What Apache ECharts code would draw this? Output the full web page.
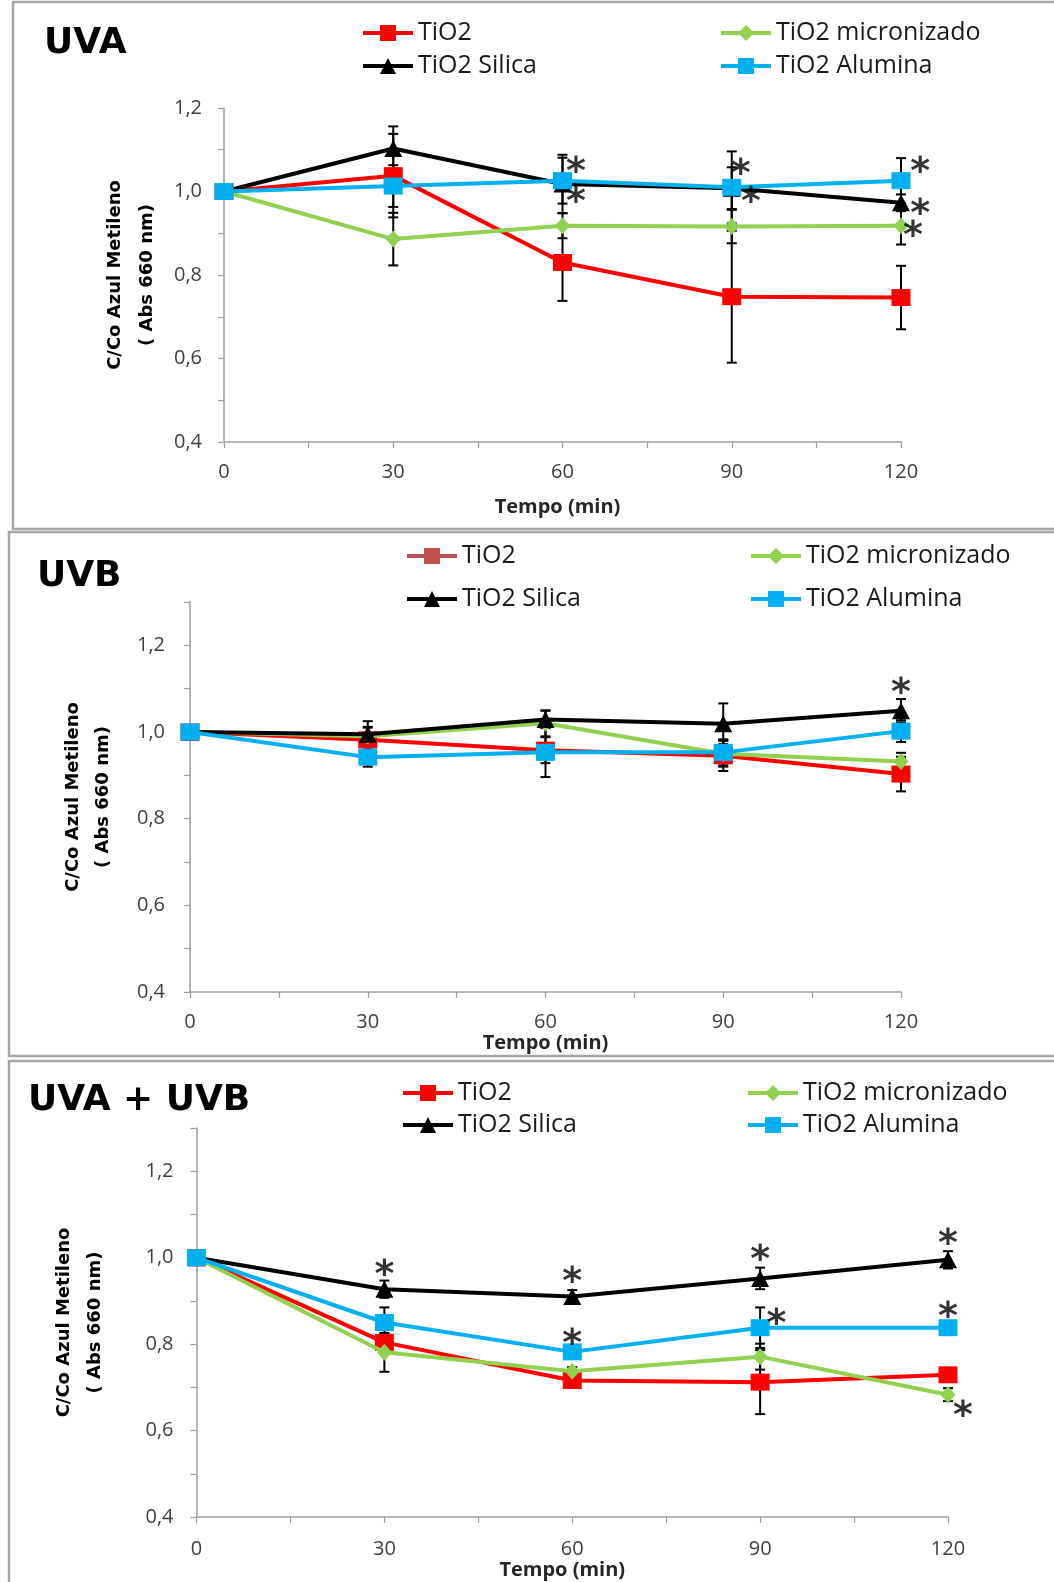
<!DOCTYPE html>
<html>
<head>
<meta charset="utf-8">
<script src="https://cdn.jsdelivr.net/npm/echarts@6/dist/echarts.min.js"></script>
<style>
html,body{margin:0;padding:0;background:#fff;}
#chart{width:1054px;height:1582px;}
</style>
</head>
<body>
<div id="chart"></div>
<script>
// ---------- DATA ----------
const times = [0, 30, 60, 90, 120];
const seriesNames = ['TiO2', 'TiO2 micronizado', 'TiO2 Silica', 'TiO2 Alumina'];
const panelTitles = ['UVA', 'UVB', 'UVA + UVB'];
const yTickValues = [0.4, 0.6, 0.8, 1.0, 1.2];
const xTickValues = [0, 30, 60, 90, 120];

// UVA
const uvaTiO2       = [1.000, 1.038, 0.830, 0.748, 0.746];
const uvaTiO2Err    = [0, 0.100, 0.092, 0.158, 0.076];
const uvaMicro      = [1.000, 0.886, 0.918, 0.916, 0.918];
const uvaMicroErr   = [0, 0.063, 0.030, 0.040, 0.045];
const uvaSilica     = [1.000, 1.103, 1.018, 1.008, 0.973];
const uvaSilicaErr  = [0, 0.053, 0.070, 0.050, 0.020];
const uvaAlumina    = [1.000, 1.013, 1.026, 1.010, 1.026];
const uvaAluminaErr = [0, 0.050, 0.055, 0.086, 0.054];
const uvaStars      = [[62.4, 1.061], [62.4, 0.989], [91.6, 1.057], [93.4, 0.990], [123.4, 1.060], [123.4, 0.960], [122.1, 0.907]];

// UVB
const uvbTiO2       = [1.000, 0.982, 0.958, 0.945, 0.903];
const uvbTiO2Err    = [0, 0.030, 0.030, 0.035, 0.040];
const uvbMicro      = [1.000, 0.990, 1.020, 0.950, 0.932];
const uvbMicroErr   = [0, 0.020, 0.030, 0.030, 0.020];
const uvbSilica     = [1.000, 0.995, 1.029, 1.019, 1.049];
const uvbSilicaErr  = [0, 0.030, 0.020, 0.047, 0.027];
const uvbAlumina    = [1.000, 0.942, 0.953, 0.953, 1.002];
const uvbAluminaErr = [0, 0.022, 0.057, 0.030, 0.025];
const uvbStars      = [[120, 1.104]];

// UVA + UVB
const uvabTiO2       = [1.000, 0.804, 0.716, 0.712, 0.729];
const uvabTiO2Err    = [0, 0.020, 0.016, 0.074, 0.015];
const uvabMicro      = [1.000, 0.781, 0.737, 0.771, 0.683];
const uvabMicroErr   = [0, 0.045, 0.010, 0.030, 0.015];
const uvabSilica     = [1.000, 0.927, 0.910, 0.952, 0.995];
const uvabSilicaErr  = [0, 0.020, 0.015, 0.025, 0.020];
const uvabAlumina    = [1.000, 0.850, 0.782, 0.838, 0.838];
const uvabAluminaErr = [0, 0.035, 0.015, 0.047, 0.015];
const uvabStars      = [[30, 0.974], [60, 0.958], [90, 1.009], [120, 1.046], [60, 0.815], [92.6, 0.860], [120, 0.876], [122.4, 0.647]];

// ---------- STYLE / LAYOUT ----------
const colors = ['#FF0000', '#92D050', '#000000', '#00B0F0'];
const symbols = ['rect', 'diamond', 'triangle', 'rect'];
const symbolSizes = [[19, 17], [15, 17], [18, 17], [19, 17]];
const labelFont = 'Open Sans';
const boldFont = 'DejaVu Sans';

const panelData = [
  {vals: [uvaTiO2, uvaMicro, uvaSilica, uvaAlumina], errs: [uvaTiO2Err, uvaMicroErr, uvaSilicaErr, uvaAluminaErr], stars: uvaStars},
  {vals: [uvbTiO2, uvbMicro, uvbSilica, uvbAlumina], errs: [uvbTiO2Err, uvbMicroErr, uvbSilicaErr, uvbAluminaErr], stars: uvbStars},
  {vals: [uvabTiO2, uvabMicro, uvabSilica, uvabAlumina], errs: [uvabTiO2Err, uvabMicroErr, uvabSilicaErr, uvabAluminaErr], stars: uvabStars}
];

const layout = [
  {grid: {left: 224, top: 108, width: 677, height: 334}, ymax: 1.2, nameGap: 46, nameLH: 32, labelMargin: 22, xMargin: 20, xNameGap: 55, xNamePad: [0, 10, 0, 0],
   title: {x: 44, y: 44}, border: {x: 13, y: 2, h: 527},
   legendCols: [361, 719], legendRows: [33, 66]},
  {grid: {left: 190, top: 602, width: 711, height: 390}, ymax: 1.3, nameGap: 72, nameLH: 30, labelMargin: 25, xMargin: 20, xNameGap: 33, xNamePad: [0, 0, 0, 0],
   title: {x: 37, y: 577}, border: {x: 9, y: 532, h: 524},
   legendCols: [405, 749], legendRows: [556, 599]},
  {grid: {left: 196.5, top: 1128, width: 751.5, height: 389}, ymax: 1.3, nameGap: 86, nameLH: 31, labelMargin: 23, xMargin: 22, xNameGap: 39, xNamePad: [0, 20, 0, 0],
   title: {x: 28, y: 1101}, border: {x: 9, y: 1061, h: 600},
   legendCols: [401, 746], legendRows: [1093, 1125]}
];
// legend grid order: [row][col]
const legendOrder = [[0, 1], [2, 3]];

// ---------- BUILD OPTION ----------
const grids = [], xAxes = [], yAxes = [], series = [], legends = [], graphics = [];

function yLabel(v) {
  const k = Math.round(v * 10);
  if (k % 2 !== 0) return '';
  const val = k / 10;
  return yTickValues.some(t => Math.abs(t - val) < 1e-6) ? val.toFixed(1).replace('.', ',') : '';
}
function xLabel(v) {
  return xTickValues.indexOf(Math.round(v)) >= 0 ? String(Math.round(v)) : '';
}

layout.forEach((L, p) => {
  grids.push(Object.assign({containLabel: false}, L.grid));
  xAxes.push({
    type: 'value', gridIndex: p, min: 0, max: 120, interval: 15,
    axisLine: {show: true, lineStyle: {color: '#9e9e9e', width: 1.5}},
    axisTick: {show: true, length: 6, lineStyle: {color: '#9e9e9e', width: 1.2}},
    splitLine: {show: false},
    axisLabel: {formatter: xLabel, margin: L.xMargin, fontFamily: labelFont, fontSize: 20, color: '#404040'},
    name: 'Tempo (min)', nameLocation: 'middle', nameGap: L.xNameGap,
    nameTextStyle: {fontFamily: labelFont, fontWeight: 'bold', fontSize: 20, color: '#262626', padding: L.xNamePad}
  });
  yAxes.push({
    type: 'value', gridIndex: p, min: 0.4, max: L.ymax, interval: 0.1,
    axisLine: {show: true, lineStyle: {color: '#9e9e9e', width: 1.5}},
    axisTick: {show: true, length: 6, lineStyle: {color: '#9e9e9e', width: 1.2}},
    splitLine: {show: false},
    axisLabel: {formatter: yLabel, margin: L.labelMargin, fontFamily: labelFont, fontSize: 20, color: '#404040'},
    name: 'C/Co Azul Metileno\n( Abs 660 nm)', nameLocation: 'middle', nameRotate: 90, nameGap: L.nameGap,
    nameTextStyle: {fontFamily: boldFont, fontWeight: 'bold', fontSize: 18, lineHeight: L.nameLH, color: '#000', align: 'center'}
  });

  const D = panelData[p];
  // error bars
  const errData = [];
  D.vals.forEach((vals, s) => {
    vals.forEach((v, i) => {
      const e = D.errs[s][i];
      if (e > 0) errData.push([times[i], v - e, v + e]);
    });
  });
  series.push({
    type: 'custom', xAxisIndex: p, yAxisIndex: p, z: 2, silent: true,
    data: errData, encode: {x: 0, y: [1, 2]},
    renderItem: function (params, api) {
      const lo = api.coord([api.value(0), api.value(1)]);
      const hi = api.coord([api.value(0), api.value(2)]);
      const w = 5;
      const st = {stroke: '#000', lineWidth: 2};
      return {type: 'group', children: [
        {type: 'line', shape: {x1: lo[0], y1: lo[1], x2: hi[0], y2: hi[1]}, style: st},
        {type: 'line', shape: {x1: lo[0] - w, y1: lo[1], x2: lo[0] + w, y2: lo[1]}, style: st},
        {type: 'line', shape: {x1: hi[0] - w, y1: hi[1], x2: hi[0] + w, y2: hi[1]}, style: st}
      ]};
    }
  });
  // lines
  D.vals.forEach((vals, s) => {
    series.push({
      type: 'line', name: seriesNames[s], xAxisIndex: p, yAxisIndex: p, z: 3 + s,
      data: vals.map((v, i) => [times[i], v]),
      symbol: symbols[s], symbolSize: symbolSizes[s], showAllSymbol: true,
      lineStyle: {color: colors[s], width: 4},
      itemStyle: {color: colors[s]},
      emphasis: {disabled: true}, animation: false
    });
  });
  // asterisks
  series.push({
    type: 'scatter', xAxisIndex: p, yAxisIndex: p, z: 10, silent: true, clip: false,
    data: D.stars, symbolSize: 2, itemStyle: {color: 'rgba(0,0,0,0)'},
    label: {show: true, formatter: '*', position: 'inside', fontFamily: 'DejaVu Sans', fontWeight: 'bold', fontSize: 38, color: '#000', offset: [0, 7]}
  });

  // legends
  legendOrder.forEach((row, r) => {
    row.forEach((s, c) => {
      const item = {name: seriesNames[s]};
      if (p === 1 && s === 0) {
        item.itemStyle = {color: '#C0504D'};
        item.lineStyle = {color: '#C0504D', width: 4};
      }
      legends.push({
        data: [item], left: L.legendCols[c], top: L.legendRows[r] - 15,
        padding: 0, itemWidth: 50, itemHeight: 20, selectedMode: false,
        lineStyle: {width: 4},
        textStyle: {fontFamily: labelFont, fontSize: 25, lineHeight: 30, color: '#1a1a1a'}
      });
    });
  });

  // panel border & title
  graphics.push({type: 'rect', shape: {x: L.border.x, y: L.border.y, width: 1100, height: L.border.h},
    style: {fill: 'none', stroke: '#a6a6a6', lineWidth: 2.5}, z: 0, silent: true});
  graphics.push({type: 'text', x: L.title.x, y: L.title.y, z: 10, silent: true,
    style: {text: panelTitles[p], font: 'bold 36px "DejaVu Sans"', fill: '#000', textVerticalAlign: 'middle'}});
});

const chart = echarts.init(document.getElementById('chart'), null, {renderer: 'canvas'});
chart.setOption({
  animation: false,
  backgroundColor: '#ffffff',
  grid: grids, xAxis: xAxes, yAxis: yAxes,
  legend: legends, series: series, graphic: graphics
});
</script>
</body>
</html>
